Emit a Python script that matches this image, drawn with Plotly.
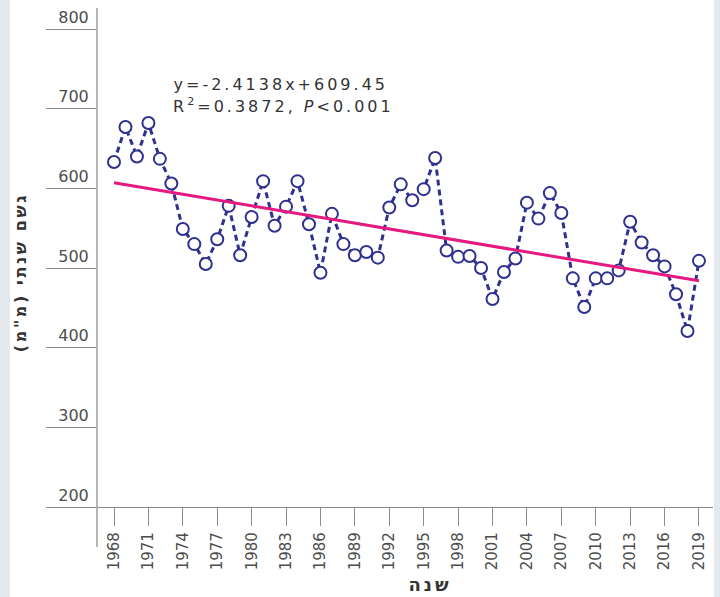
import plotly.graph_objects as go

# Annual rainfall series, 1968-2019
years = list(range(1968, 2020))
rainfall = [
    633, 677, 640, 682, 637, 606, 549, 530, 505, 536,
    578, 516, 564, 609, 553, 577, 609, 555, 494, 568,
    530, 516, 520, 513, 576, 605, 585, 599, 638, 522,
    514, 515, 500, 461, 495, 512, 582, 562, 594, 569,
    487, 451, 487, 487, 497, 558, 532, 516, 502, 467,
    421, 509,
]

# Linear trend (x = year index starting at 1)
slope = -2.4138
intercept = 609.45
r_squared = 0.3872

y_ticks = [200, 300, 400, 500, 600, 700, 800]
x_ticks = list(range(1968, 2020, 3))

trend = [intercept + slope * (yr - 1967) for yr in years]

NAVY = "#2e3190"
PINK = "#e5197f"
GRID = "#8c8c8c"
LABEL = "#4d4d4d"

fig = go.Figure()

fig.add_trace(go.Scatter(
    x=years, y=rainfall, mode="lines+markers",
    line=dict(color=NAVY, width=3, dash="6px,4px"),
    marker=dict(symbol="circle", size=12, color="white",
                line=dict(color=NAVY, width=2)),
    showlegend=False, hoverinfo="x+y",
))

fig.add_trace(go.Scatter(
    x=years, y=trend, mode="lines",
    line=dict(color=PINK, width=3),
    showlegend=False, hoverinfo="skip",
))

# px -> paper helpers for the fixed 720x597 canvas
L, R, T, B = 97, 7, 29, 90
PW, PH = 720 - L - R, 597 - T - B


def px(xp):
    return (xp - L) / PW


def py(yp):
    return (597 - B - yp) / PH


shapes = [
    # side bands
    dict(type="rect", xref="paper", yref="paper", x0=px(0), x1=px(10),
         y0=py(597), y1=py(0), fillcolor="#e4e9ee", line_width=0, layer="below"),
    dict(type="rect", xref="paper", yref="paper", x0=px(714), x1=px(720),
         y0=py(597), y1=py(0), fillcolor="#e4e9ee", line_width=0, layer="below"),
    # vertical axis line, running past the plot area at both ends
    dict(type="line", xref="paper", yref="paper", x0=0, x1=0,
         y0=py(547), y1=py(8), line=dict(color=GRID, width=1.3)),
]

# letter spacing added afterwards widens centred text on both sides,
# so the left-aligned lines are placed by their centre instead
annotations = [
    dict(xref="paper", yref="paper", x=px(171 + 26), y=py(84), xanchor="left",
         yanchor="middle", showarrow=False, text="y=-2.4138x+609.45",
         font=dict(family="DejaVu Sans", size=16, color="#333333")),
    dict(xref="paper", yref="paper", x=px(171 + 27), y=py(106), xanchor="left",
         yanchor="middle", showarrow=False,
         text=f"R<sup>2</sup>={r_squared}, <i>P</i>&lt;0.001",
         font=dict(family="DejaVu Sans", size=16, color="#333333")),
    dict(xref="paper", yref="paper", x=px(20), y=py(273), xanchor="center",
         yanchor="middle", showarrow=False, textangle=-90,
         text='גשם שנתי (מ"מ)',
         font=dict(family="DejaVu Sans", size=16, color="#333333", weight="bold")),
    dict(xref="paper", yref="paper", x=px(430), y=py(584), xanchor="center",
         yanchor="middle", showarrow=False, text="שנה",
         font=dict(family="DejaVu Sans", size=18, color="#333333", weight="bold")),
]

fig.update_layout(
    width=720, height=597, autosize=False,
    margin=dict(l=L, r=R, t=T, b=B, pad=0),
    paper_bgcolor="white", plot_bgcolor="white",
    shapes=shapes, annotations=annotations,
    xaxis=dict(
        range=[1968 - 17 / 11.47, 1968 + 599 / 11.47],
        tickvals=x_ticks, ticktext=[str(v) for v in x_ticks],
        ticks="outside", ticklen=18, tickwidth=1.3, tickcolor=GRID,
        tickangle=-90, tickfont=dict(family="DejaVu Sans", size=15, color=LABEL),
        showline=True, linecolor=GRID, linewidth=1.3,
        showgrid=False, zeroline=False, automargin=False,
    ),
    yaxis=dict(
        range=[200, 800],
        tickvals=y_ticks, ticktext=[str(v) for v in y_ticks],
        ticks="outside", ticklen=50, tickwidth=1.3, tickcolor=GRID,
        ticklabelstandoff=-46, ticklabelshift=-12,
        tickfont=dict(family="DejaVu Sans", size=16, color=LABEL),
        showline=False, showgrid=False, zeroline=False, automargin=False,
    ),
)

# Spread the lettering a little, as in the printed figure
spacing_js = """
var sp = ['3px', '3px', '2.6px', '3px'];
document.querySelectorAll('.annotation-text').forEach(function (t, i) {
  if (i < sp.length) { t.style.letterSpacing = sp[i]; }
});
"""

fig.write_html("out.html", post_script=spacing_js)
